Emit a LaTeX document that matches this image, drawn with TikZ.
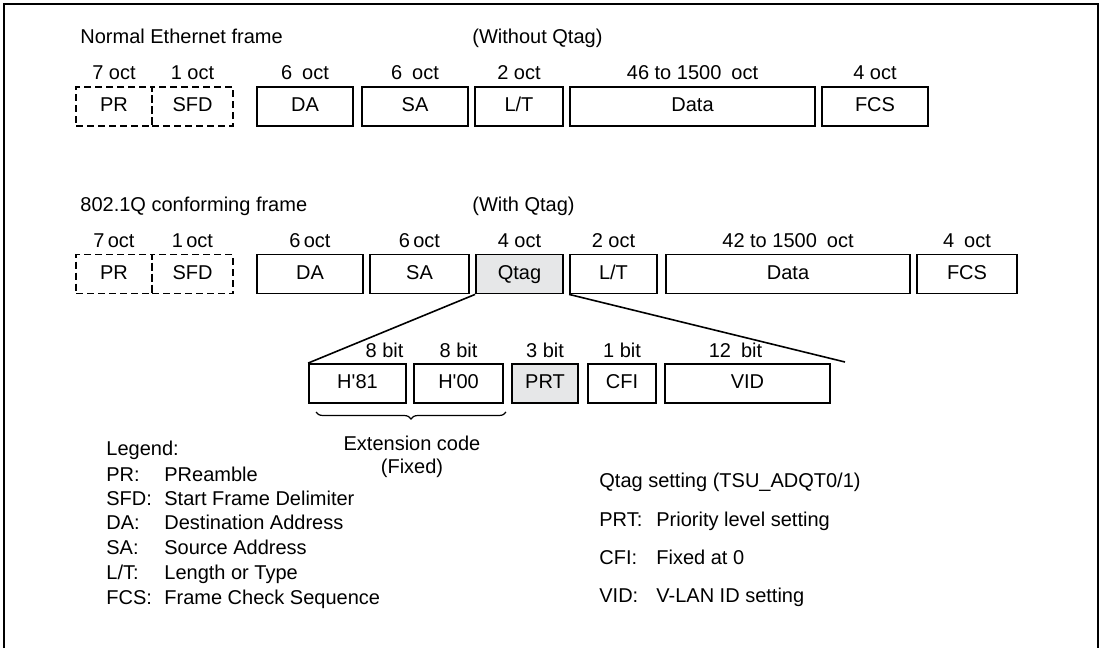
\documentclass[tikz,border=0pt]{standalone}
\usepackage{fontspec}
\setmainfont{Liberation Sans}
\usepackage{tikz}
\usetikzlibrary{positioning, decorations.pathreplacing}
\definecolor{qtaggray}{RGB}{230,231,232}
\tikzset{
  field_box/.style={rectangle, draw=black, line width=0.9pt, minimum height=19.5pt, inner sep=0pt, text height=7.2pt, text depth=2pt},
  pre_box/.style={field_box, dash pattern=on 3.5pt off 2pt},
  tag_box/.style={field_box, fill=qtaggray},
  size_label/.style={inner sep=0pt},
  title_text/.style={anchor=base west, inner sep=0pt},
  legend_text/.style={anchor=base west, inner sep=0pt},
  zoom_line/.style={line width=0.8pt},
  ext_brace/.style={decorate, decoration={brace, mirror, amplitude=3.5pt}, line width=0.6pt},
  outer_frame/.style={line width=1pt}
}

\begin{document}
\begin{tikzpicture}[x=0.5pt, y=-0.5pt, font=\fontsize{10}{11.5}\selectfont]

  \useasboundingbox (0,0) rectangle (1103,648);

  % --- Geometry (px of the page, y downwards) ---
  \def\yBoxA{106.5}
  \def\yBoxB{274}
  \def\yBoxC{383.5}
  \def\xKeyL{106}
  \def\xDescL{164}
  \def\xKeyR{599}
  \def\xDescR{656}

  % --- Outer frame (open at the bottom) ---
  \draw[outer_frame] (4,648) -- (4,4) -- (1098,4) -- (1098,648);

  % --- Normal Ethernet frame ---
  \node[title_text] (title_a) at (80,43) {Normal Ethernet frame};
  \node[title_text] (note_a) at (472,43) {(Without Qtag)};

  \node[pre_box, minimum width=38pt] (pr_a) at (114,\yBoxA) {PR};
  \node[pre_box, minimum width=40.5pt] (sfd_a) at (192.5,\yBoxA) {SFD};
  \node[field_box, minimum width=48pt] (da_a) at (305,\yBoxA) {DA};
  \node[field_box, minimum width=53pt] (sa_a) at (415,\yBoxA) {SA};
  \node[field_box, minimum width=44pt] (lt_a) at (519,\yBoxA) {L/T};
  \node[field_box, minimum width=122.5pt] (data_a) at (692.5,\yBoxA) {Data};
  \node[field_box, minimum width=53pt] (fcs_a) at (875,\yBoxA) {FCS};

  \node[size_label, above=3pt of pr_a] {7 oct};
  \node[size_label, above=3pt of sfd_a] {1 oct};
  \node[size_label, above=3pt of da_a] {6\enspace oct};
  \node[size_label, above=3pt of sa_a] {6\enspace oct};
  \node[size_label, above=3pt of lt_a] {2 oct};
  \node[size_label, above=3pt of data_a] {46 to 1500\enspace oct};
  \node[size_label, above=3pt of fcs_a] {4 oct};

  % --- 802.1Q conforming frame ---
  \node[title_text] (title_b) at (80,211) {802.1Q conforming frame};
  \node[title_text] (note_b) at (472,211) {(With Qtag)};

  \node[pre_box, minimum width=38pt] (pr_b) at (114,\yBoxB) {PR};
  \node[pre_box, minimum width=40.5pt] (sfd_b) at (192.5,\yBoxB) {SFD};
  \node[field_box, minimum width=53pt] (da_b) at (310,\yBoxB) {DA};
  \node[field_box, minimum width=49.5pt] (sa_b) at (419.5,\yBoxB) {SA};
  \node[tag_box, minimum width=43.5pt] (qtag_b) at (519.5,\yBoxB) {Qtag};
  \node[field_box, minimum width=43.5pt] (lt_b) at (613.5,\yBoxB) {L/T};
  \node[field_box, minimum width=122pt] (data_b) at (788,\yBoxB) {Data};
  \node[field_box, minimum width=50pt] (fcs_b) at (967,\yBoxB) {FCS};

  \node[size_label, above=3pt of pr_b] {7\,oct};
  \node[size_label, above=3pt of sfd_b] {1\,oct};
  \node[size_label, above=3pt of da_b] {6\,oct};
  \node[size_label, above=3pt of sa_b] {6\,oct};
  \node[size_label, above=3pt of qtag_b] {4 oct};
  \node[size_label, above=3pt of lt_b] {2 oct};
  \node[size_label, above=3pt of data_b] {42 to 1500\enspace oct};
  \node[size_label, above=3pt of fcs_b] {4\enspace oct};

  % --- Qtag fields ---
  \node[field_box, minimum width=48.5pt] (h81) at (357.5,\yBoxC) {H\textquotesingle 81};
  \node[field_box, minimum width=44.5pt] (h00) at (458.5,\yBoxC) {H\textquotesingle 00};
  \node[tag_box, minimum width=33pt] (prt) at (545,\yBoxC) {PRT};
  \node[field_box, minimum width=34pt] (cfi) at (622,\yBoxC) {CFI};
  \node[field_box, minimum width=82.5pt] (vid) at (747.5,\yBoxC) {VID};

  \node[size_label, anchor=south east] at ([xshift=-1.5pt, yshift=2.5pt]h81.north east) {8 bit};
  \node[size_label, above=2.5pt of h00] {8 bit};
  \node[size_label, above=2.5pt of prt] {3 bit};
  \node[size_label, above=2.5pt of cfi] {1 bit};
  \node[size_label, above=2.5pt of vid, xshift=-6pt] {12\enspace bit};

  \coordinate (zoom_end) at (845,362);
  \draw[zoom_line] (qtag_b.south west) -- (h81.north west);
  \draw[zoom_line] (lt_b.south west) -- (zoom_end);

  % --- Extension code brace ---
  \coordinate (brace_l) at (316,412);
  \coordinate (brace_r) at (506,412);
  \draw[ext_brace] (brace_l) -- (brace_r);
  \node[align=center, inner sep=0pt] (ext_code) at (412,457) {Extension code\\(Fixed)};

  % --- Legend ---
  \node[legend_text] (leg_title) at (\xKeyL,455) {Legend:};
  \node[legend_text] (key_pr) at (\xKeyL,481) {PR:};
  \node[legend_text] (desc_pr) at (\xDescL,481) {PReamble};
  \node[legend_text] (key_sfd) at (\xKeyL,505) {SFD:};
  \node[legend_text] (desc_sfd) at (\xDescL,505) {Start Frame Delimiter};
  \node[legend_text] (key_da) at (\xKeyL,529) {DA:};
  \node[legend_text] (desc_da) at (\xDescL,529) {Destination Address};
  \node[legend_text] (key_sa) at (\xKeyL,554) {SA:};
  \node[legend_text] (desc_sa) at (\xDescL,554) {Source Address};
  \node[legend_text] (key_lt) at (\xKeyL,579) {L/T:};
  \node[legend_text] (desc_lt) at (\xDescL,579) {Length or Type};
  \node[legend_text] (key_fcs) at (\xKeyL,604) {FCS:};
  \node[legend_text] (desc_fcs) at (\xDescL,604) {Frame Check Sequence};

  % --- Qtag setting ---
  \node[legend_text] (qtag_title) at (\xKeyR,487) {Qtag setting (TSU\_ADQT0/1)};
  \node[legend_text] (key_prt) at (\xKeyR,526) {PRT:};
  \node[legend_text] (desc_prt) at (\xDescR,526) {Priority level setting};
  \node[legend_text] (key_cfi) at (\xKeyR,564) {CFI:};
  \node[legend_text] (desc_cfi) at (\xDescR,564) {Fixed at 0};
  \node[legend_text] (key_vid) at (\xKeyR,602) {VID:};
  \node[legend_text] (desc_vid) at (\xDescR,602) {V-LAN ID setting};

\end{tikzpicture}
\end{document}
